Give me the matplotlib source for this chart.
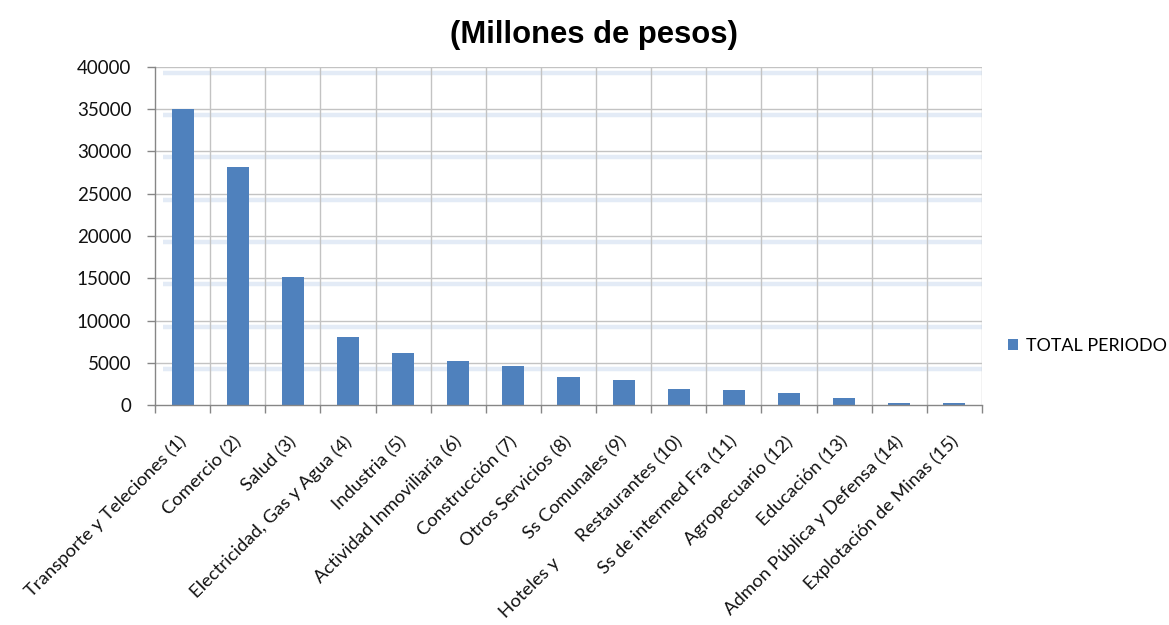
import matplotlib
matplotlib.use("Agg")
import matplotlib.pyplot as plt
from matplotlib.transforms import ScaledTranslation, offset_copy
import numpy as np

categories = [
    "Transporte y Teleciones (1)",
    "Comercio (2)",
    "Salud (3)",
    "Electricidad, Gas y Agua (4)",
    "Industria (5)",
    "Actividad Inmoviliaria (6)",
    "Construcción (7)",
    "Otros Servicios (8)",
    "Ss Comunales (9)",
    "Restaurantes (10)",
    "Ss de intermed Fra (11)",
    "Agropecuario (12)",
    "Educación (13)",
    "Admon Pública y Defensa (14)",
    "Explotación de Minas (15)",
]
extra_label = "Hoteles y"          # first part of the label of category 10
extra_label_index = 9
total_periodo = [35000, 28200, 15200, 8100, 6200, 5150, 4600, 3350, 2950,
                 1950, 1750, 1400, 880, 200, 180]
yticks = [0, 5000, 10000, 15000, 20000, 25000, 30000, 35000, 40000]
series_name = "TOTAL PERIODO"
title = "(Millones de pesos)"

BAR = "#4f81bd"
GRID = "#c3c3c3"
AXIS = "#868686"
BAND = "#e3ebf6"
LABEL_FONT = ["Lato", "DejaVu Sans"]
TEXT = "#111111"

fig = plt.figure(figsize=(11.69, 6.25), dpi=100)
W, H = 1169, 625
ax = fig.add_axes([155 / W, 1 - 405 / H, (982 - 155) / W, (405 - 67) / H])

x = np.arange(len(categories))
ax.set_xlim(-0.5, len(categories) - 0.5)
ax.set_ylim(0, 40000)

# gridlines: grey line with a soft blue band just below it
band_tr = offset_copy(ax.get_yaxis_transform(), fig=fig, x=0, y=-6, units="dots")
for v in yticks[1:]:
    ax.plot([0.01, 1], [v, v], transform=band_tr, color=BAND, lw=3.2,
            solid_capstyle="butt", zorder=0.5)
    ax.axhline(v, color=GRID, lw=1.0, zorder=0.8)
for b in np.arange(0.5, len(categories) - 0.5, 1.0):
    ax.axvline(b, color=GRID, lw=1.0, zorder=0.8)
ax.axvline(len(categories) - 0.5, color=GRID, lw=1.0, zorder=0.8)

bars = ax.bar(x, total_periodo, width=0.4, color=BAR, zorder=2,
              label=series_name)

for s in ["top", "right"]:
    ax.spines[s].set_visible(False)
for s in ["left", "bottom"]:
    ax.spines[s].set_color(AXIS)
    ax.spines[s].set_linewidth(1.0)

ax.set_yticks(yticks)
ax.set_yticklabels([str(v) for v in yticks], fontsize=13.5,
                   family=LABEL_FONT, color=TEXT)
ax.tick_params(axis="y", length=6, width=1.0, color=AXIS, pad=11)

ax.set_xticks(np.arange(-0.5, len(categories), 1.0))
ax.set_xticklabels([])
ax.tick_params(axis="x", length=6, width=1.0, color=AXIS)

LABEL_SIZE = 13.3
label_tr = ax.get_xaxis_transform() + ScaledTranslation(0.01, -0.34,
                                                       fig.dpi_scale_trans)
for i, name in enumerate(categories):
    ax.text(i, 0, name, transform=label_tr, rotation=45, ha="right",
            va="center", rotation_mode="anchor", fontsize=LABEL_SIZE,
            family=LABEL_FONT, color=TEXT)

extra_tr = ax.get_xaxis_transform() + ScaledTranslation(-1.22, -1.56,
                                                       fig.dpi_scale_trans)
ax.text(extra_label_index, 0, extra_label, transform=extra_tr, rotation=45,
        ha="right", va="center", rotation_mode="anchor", fontsize=LABEL_SIZE,
        family=LABEL_FONT, color=TEXT)

fig.text(594 / W, 1 - 35 / H, title, ha="center", va="center",
         fontsize=22.3, fontweight="bold",
         family=["Liberation Sans", "DejaVu Sans"])

fig.legend(handles=[bars], labels=[series_name], loc="center left",
           bbox_to_anchor=(1008 / W, 1 - 346 / H), frameon=False,
           handlelength=0.55, handleheight=0.55, handletextpad=0.45,
           borderpad=0, borderaxespad=0,
           prop={"family": LABEL_FONT, "size": 12.9})

fig.savefig("out.png", dpi=100)
